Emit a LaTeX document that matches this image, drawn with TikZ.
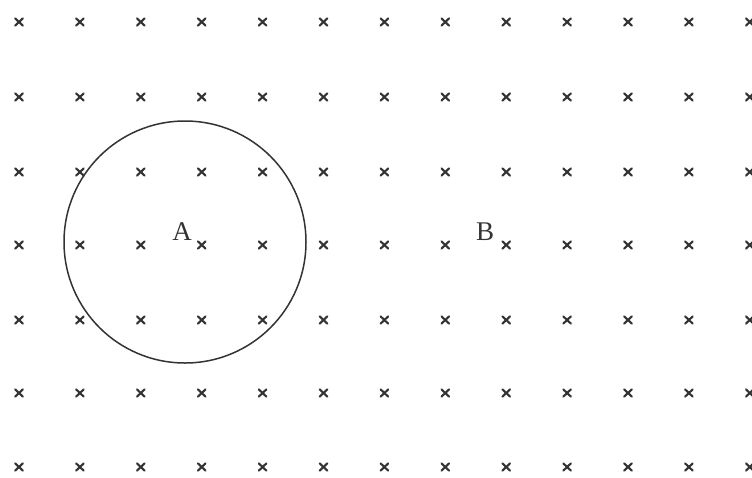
\documentclass[tikz,border=0pt]{standalone}
\usepackage{fontspec}
\setmainfont{Liberation Serif}
\definecolor{ink}{HTML}{333333}
\tikzset{
  crossmark/.style={draw=ink, line width=2.1pt, line cap=round},
  ringline/.style={draw=ink, line width=1.5pt},
  lbl/.style={text=ink, font=\fontsize{27}{27}\selectfont, inner sep=0pt, anchor=base}
}
\begin{document}
\begin{tikzpicture}[x=1pt,y=-1pt]
\useasboundingbox[fill=white] (0,0) rectangle (752,477);
\foreach \r/\yy in {0/22,1/97,2/172,3/245,4/320,5/393,6/467}{
  \foreach \c in {0,...,12}{
    \pgfmathsetmacro{\xx}{19+60.9*\c}
    \draw[crossmark] (\xx-3.8,\yy-3.6) -- (\xx+3.8,\yy+3.6);
    \draw[crossmark] (\xx-3.8,\yy+3.6) -- (\xx+3.8,\yy-3.6);
  }
}
\node[ringline, circle, minimum size=242pt, inner sep=0pt] (ring) at (185,242) {};
\node[lbl] (A) at (182,240) {A};
\node[lbl] (B) at (485,240) {B};
\end{tikzpicture}
\end{document}
